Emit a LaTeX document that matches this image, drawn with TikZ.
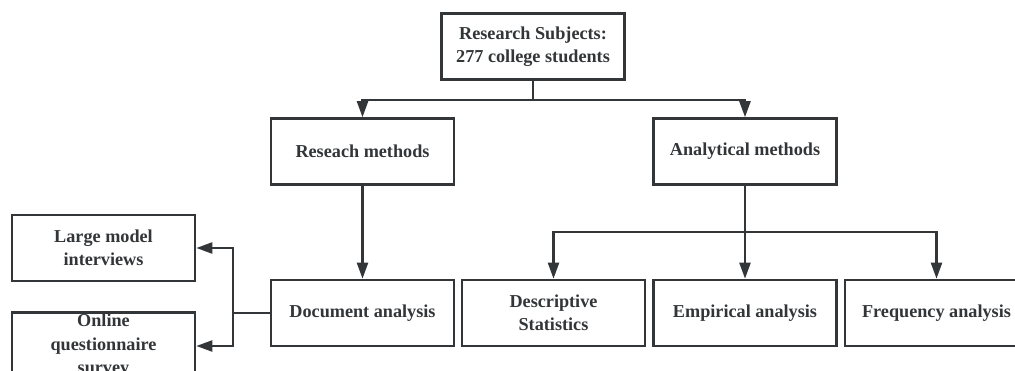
\documentclass[tikz,border=0pt]{standalone}
\usepackage{fontspec}
\setmainfont{Liberation Serif}
\usetikzlibrary{arrows.meta}
\definecolor{ink}{HTML}{333638}
\begin{document}
\begin{tikzpicture}[x=1pt,y=-1pt,
  box/.style={draw=ink, line width=2.6pt, fill=white, minimum width=183pt, minimum height=66pt,
    inner sep=2pt, align=center, text=ink, font=\fontsize{18.2}{23.5}\selectfont\bfseries},
  conn/.style={draw=ink, line width=2.3pt},
  arr/.style={conn, -{Triangle[length=16pt,width=11pt]}}]
\useasboundingbox (0,0) rectangle (1015,371);
\begin{scope}
\clip (0,0) rectangle (1015,371);
\node[box] (subj) at (533,46.5) {Research Subjects:\\277 college students};
\node[box] (rm) at (362.5,151.5) {Reseach methods};
\node[box] (am) at (745,151.5) {Analytical methods};
\node[box] (doc) at (362.5,313) {Document analysis};
\node[box] (desc) at (553.5,313) {Descriptive\\Statistics};
\node[box] (emp) at (745,313) {Empirical analysis};
\node[box] (freq) at (936.5,313) {Frequency analysis};
\node[box] (large) at (103.5,248) {Large model\\interviews};
\node[box] (online) at (103.5,346) {Online\\questionnaire\\survey};

\coordinate (t1) at (533,100);
\coordinate (t2) at (745,232);
\coordinate (t3) at (233,313);

\draw[conn] (subj.south) -- (t1);
\draw[arr] (t1) -| (rm.north);
\draw[arr] (t1) -| (am.north);
\draw[arr] (rm.south) -- (doc.north);
\draw[conn] (am.south) -- (t2);
\draw[arr] (t2) -| (desc.north);
\draw[arr] (t2) -- (emp.north);
\draw[arr] (t2) -| (freq.north);
\draw[conn] (doc.west) -- (t3);
\draw[arr] (t3) |- (large.east);
\draw[arr] (t3) |- (online.east);
\end{scope}
\end{tikzpicture}
\end{document}
